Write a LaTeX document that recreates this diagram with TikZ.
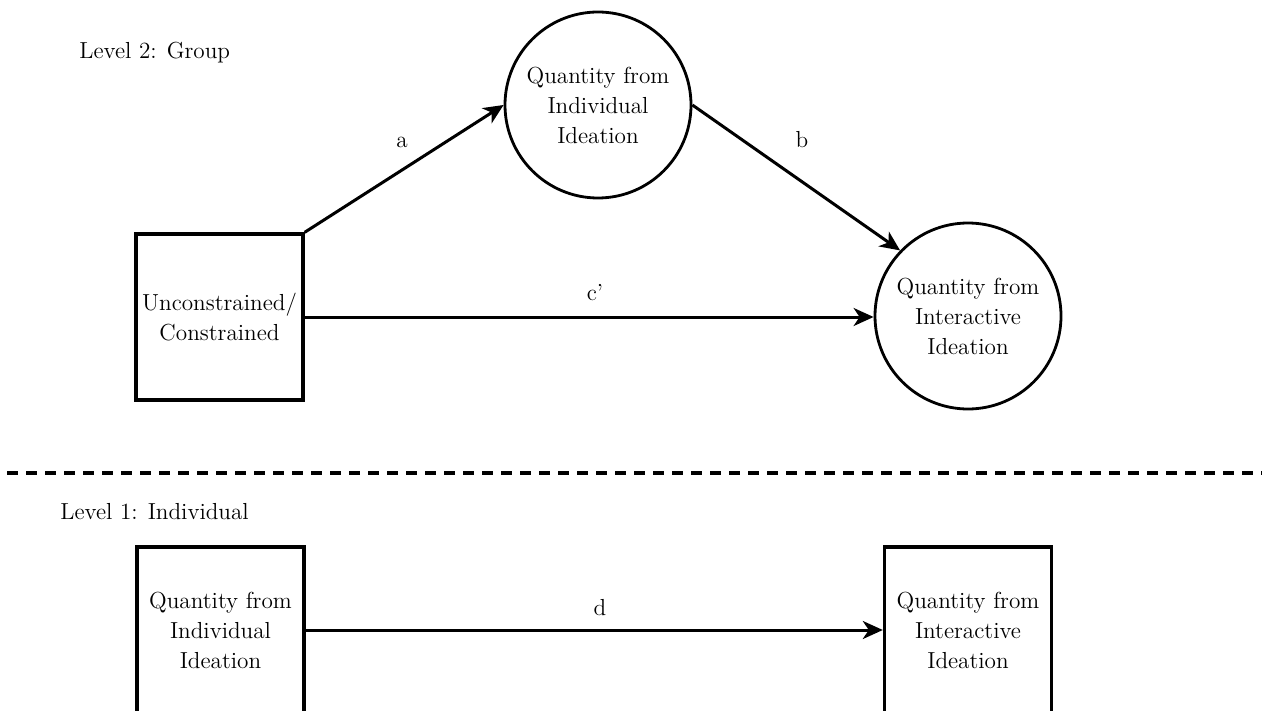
\documentclass[tikz,border=0pt]{standalone}
\usepackage{fontspec}
\usetikzlibrary{arrows.meta}
\begin{document}
\begin{tikzpicture}[x=0.5pt,y=-0.5pt,
  txt/.style={font=\rmfamily\fontsize{11.6}{15}\selectfont, align=center, inner sep=0pt},
  boxnode/.style={txt, draw, line width=1.7pt, minimum width=83.5pt, minimum height=83pt},
  circnode/.style={txt, draw, circle, line width=1.4pt, minimum size=93pt},
  conn/.style={line width=1.5pt, -{Stealth[length=10pt,width=9pt,inset=3pt]}},
  lbl/.style={font=\rmfamily\fontsize{11.6}{15}\selectfont, inner sep=0pt},
  sep/.style={line width=2pt, dash pattern=on 5.5pt off 4pt}
]
\clip (0,0) rectangle (1262,711);
\useasboundingbox (0,0) rectangle (1262,711);
\fill[white] (0,0) rectangle (1262,711);

\node[lbl, anchor=base west] (lev2) at (79,59) {Level 2: Group};
\node[lbl, anchor=base west] (lev1) at (60,519) {Level 1: Individual};

\node[boxnode] (r1) at (219.5,317) {Unconstrained/\\Constrained};
\node[circnode] (c1) at (598,105) {Quantity from\\Individual\\Ideation};
\node[circnode] (c2) at (968,316) {Quantity from\\Interactive\\Ideation};

\node[boxnode] (q1) at (220.5,630) {Quantity from\\Individual\\Ideation};
\node[boxnode] (q2) at (968,630) {Quantity from\\Interactive\\Ideation};

\draw[conn] (r1.north east) -- (c1.west);
\draw[conn] (c1.east) -- (c2.136);
\draw[conn] (r1.east) -- (r1.east -| c2.west);
\draw[conn] (q1.east) -- (q2.west);

\node[lbl] (la) at (402,142) {a};
\node[lbl] (lb) at (802,140) {b};
\node[lbl] (lc) at (595,293) {c’};
\node[lbl] (ld) at (600,608) {d};

\coordinate (dl) at (7,473);
\coordinate (dr) at (1262,473);
\draw[sep] (dl) -- (dr);
\end{tikzpicture}
\end{document}
